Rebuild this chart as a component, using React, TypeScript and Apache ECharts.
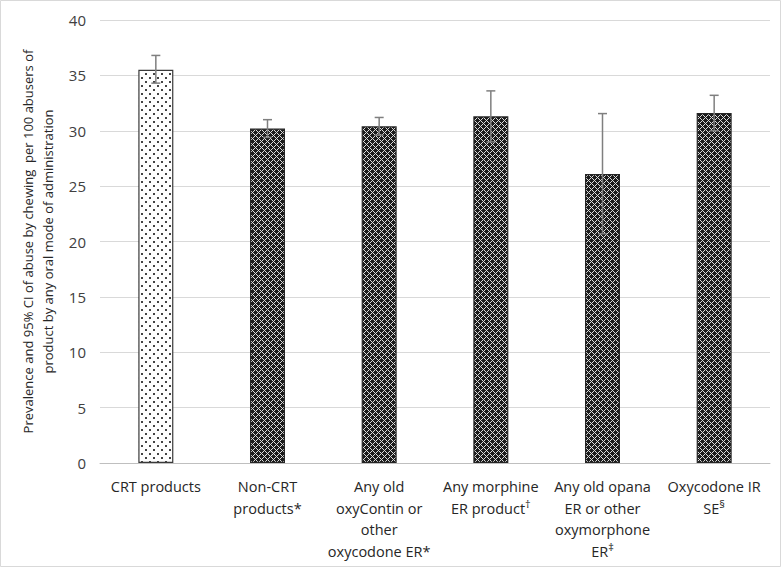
import React, { useEffect, useRef } from "react";
import * as echarts from "echarts";

const categories = [
  "CRT products",
  "Non-CRT\nproducts*",
  "Any old\noxyContin or\nother\noxycodone ER*",
  "Any morphine\nER product{sup|†}",
  "Any old opana\nER or other\noxymorphone\nER{sup|‡}",
  "Oxycodone IR\nSE{sup|§}",
];
const prevalence = [35.5, 30.2, 30.4, 31.3, 26.1, 31.6];
const ciLow = [34.3, 29.4, 29.6, 29.0, 20.7, 30.0];
const ciHigh = [36.8, 31.0, 31.2, 33.6, 31.55, 33.2];
const yTicks = { min: 0, max: 40, interval: 5 };

function makeTile(kind: "dots" | "lattice"): HTMLCanvasElement {
  const c = document.createElement("canvas");
  if (kind === "dots") {
    c.width = 8;
    c.height = 8;
    const g = c.getContext("2d")!;
    g.fillStyle = "#ffffff";
    g.fillRect(0, 0, 8, 8);
    g.fillStyle = "#444444";
    g.fillRect(1, 1, 2, 2);
    g.fillRect(5, 5, 2, 2);
  } else {
    c.width = 6;
    c.height = 6;
    const g = c.getContext("2d")!;
    g.fillStyle = "#1c1c1c";
    g.fillRect(0, 0, 6, 6);
    g.fillStyle = "#dcdcdc";
    for (let y = 0; y < 6; y++) {
      for (let x = 0; x < 6; x++) {
        if ((x + y) % 6 === 0 || (x - y + 6) % 6 === 0) g.fillRect(x, y, 1, 1);
      }
    }
  }
  return c;
}

export default function App() {
  const ref = useRef<HTMLDivElement>(null);
  useEffect(() => {
    document.body.style.margin = "0";
    const chart = echarts.init(ref.current!, null, { renderer: "svg" });
    const dots = makeTile("dots");
    const lattice = makeTile("lattice");
    const font = "Open Sans";
    chart.setOption({
      animation: false,
      backgroundColor: "#ffffff",
      textStyle: { fontFamily: font },
      graphic: [
        {
          type: "rect",
          shape: { x: 0.5, y: 0.5, width: 780, height: 566 },
          style: { fill: "none", stroke: "#d9d9d9", lineWidth: 1 },
          silent: true,
        },
      ],
      grid: { left: 100, right: 11, top: 20, bottom: 104 },
      xAxis: {
        type: "category",
        data: categories,
        axisLine: { lineStyle: { color: "#bfbfbf", width: 1 } },
        axisTick: { show: false },
        axisLabel: {
          interval: 0,
          color: "#262626",
          fontSize: 14.5,
          lineHeight: 21.5,
          margin: 13,
          fontFamily: font,
          rich: {
            sup: { fontSize: 11, verticalAlign: "top", color: "#262626", fontFamily: font, lineHeight: 21.5 },
          },
        },
      },
      yAxis: {
        type: "value",
        min: yTicks.min,
        max: yTicks.max,
        interval: yTicks.interval,
        axisLine: { show: false },
        axisTick: { show: false },
        splitLine: { lineStyle: { color: "#d9d9d9", width: 1 } },
        axisLabel: { color: "#404040", fontSize: 15, margin: 14, fontFamily: font },
        name: "Prevalence and 95% CI of abuse by chewing  per 100 abusers of\nproduct by any oral mode of administration",
        nameLocation: "middle",
        nameGap: 35,
        nameRotate: 90,
        nameTextStyle: { color: "#262626", fontSize: 13, lineHeight: 20, fontFamily: font },
      },
      series: [
        {
          type: "bar",
          data: prevalence.map((v, i) => ({
            value: v,
            itemStyle: {
              color: { image: i === 0 ? dots : lattice, repeat: "repeat" },
              borderColor: i === 0 ? "#3a3a3a" : "#262626",
              borderWidth: 1.2,
            },
          })),
          barWidth: 35,
          z: 2,
        },
        {
          type: "custom",
          z: 3,
          data: prevalence.map((_, i) => [i, ciLow[i], ciHigh[i]]),
          renderItem: (params: any, api: any) => {
            const x = api.value(0);
            const lo = api.coord([x, api.value(1)]);
            const hi = api.coord([x, api.value(2)]);
            const hw = 4.5;
            const st = { stroke: "#7f7f7f", lineWidth: 1.5 };
            return {
              type: "group",
              children: [
                { type: "line", shape: { x1: hi[0], y1: hi[1], x2: lo[0], y2: lo[1] }, style: st },
                { type: "line", shape: { x1: hi[0] - hw, y1: hi[1], x2: hi[0] + hw, y2: hi[1] }, style: st },
                { type: "line", shape: { x1: lo[0] - hw, y1: lo[1], x2: lo[0] + hw, y2: lo[1] }, style: st },
              ],
            };
          },
        },
      ],
    });
    return () => chart.dispose();
  }, []);
  return <div ref={ref} style={{ width: 781, height: 567 }} />;
}
